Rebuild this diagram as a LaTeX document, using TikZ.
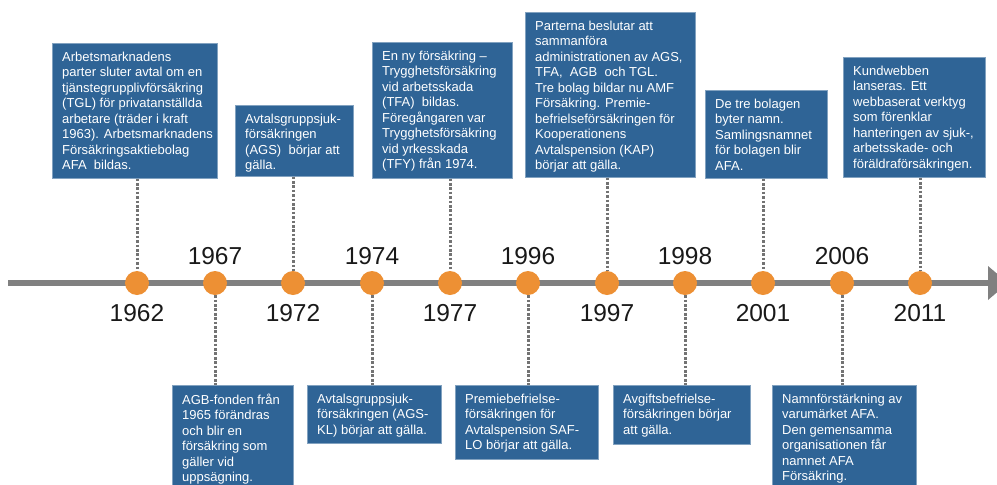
\documentclass[tikz,border=0pt]{standalone}
\usepackage{fontspec}
\setmainfont{Liberation Sans}
\definecolor{boxblue}{RGB}{47,100,150}
\definecolor{dotorange}{RGB}{237,144,52}
\definecolor{axisgray}{RGB}{128,128,128}
\definecolor{dotgray}{RGB}{115,115,115}
\tikzset{
  evbox/.style={rectangle, fill=boxblue, draw=boxblue!60!white, line width=0.5pt, inner sep=0pt, anchor=north west},
  evtext/.style={text=white, inner sep=0pt, anchor=north west, align=left, font=\fontsize{13}{15.5}\selectfont},
  evdot/.style={circle, fill=dotorange, inner sep=0pt, minimum size=24pt},
  yearlab/.style={inner sep=0pt, anchor=base, font=\fontsize{24.5}{28}\selectfont, text=black!90},
  conn/.style={dotgray, line width=3pt, dash pattern=on 2.7pt off 1.7pt},
}
\begin{document}
\begin{tikzpicture}[x=1pt, y=-1pt]
\useasboundingbox (0,0) rectangle (997,485);
% axis
\coordinate (axstart) at (8,283);
\coordinate (axend) at (990,283);
\draw[axisgray, line width=6pt] (axstart) -- (axend);
\fill[axisgray] (988,266) -- (1008,283) -- (988,300) -- cycle;

% dots
\node[evdot] (c62) at (137,283) {};
\node[evdot] (c67) at (215,283) {};
\node[evdot] (c72) at (293,283) {};
\node[evdot] (c74) at (372,283) {};
\node[evdot] (c77) at (450,283) {};
\node[evdot] (c96) at (528,283) {};
\node[evdot] (c97) at (607,283) {};
\node[evdot] (c98) at (685,283) {};
\node[evdot] (c01) at (763,283) {};
\node[evdot] (c06) at (842,283) {};
\node[evdot] (c11) at (920,283) {};

% year labels
\node[yearlab] (y62) at (137,321.7) {1962};
\node[yearlab] (y67) at (215,264) {1967};
\node[yearlab] (y72) at (293,321.7) {1972};
\node[yearlab] (y74) at (372,264) {1974};
\node[yearlab] (y77) at (450,321.7) {1977};
\node[yearlab] (y96) at (528,264) {1996};
\node[yearlab] (y97) at (607,321.7) {1997};
\node[yearlab] (y98) at (685,264) {1998};
\node[yearlab] (y01) at (763,321.7) {2001};
\node[yearlab] (y06) at (842,264) {2006};
\node[yearlab] (y11) at (920,321.7) {2011};

% top boxes
\node[evbox, minimum width=165pt, minimum height=135pt] (b62) at (52,43) {};
\node[evtext] (t62) at ([shift={(10,8.5)}]b62.north west) {Arbetsmarknadens\\parter sluter avtal om en\\tjänstegrupplivförsäkring\\(TGL) för privatanställda\\arbetare (träder i kraft\\1963). Arbetsmarknadens\\Försäkringsaktiebolag\\AFA\ \ bildas.};

\node[evbox, minimum width=118pt, minimum height=71pt] (b72) at (235,105) {};
\node[evtext] (t72) at ([shift={(10,8.5)}]b72.north west) {Avtalsgruppsjuk-\\försäkringen\\(AGS)\ \ börjar att\\gälla.};

\node[evbox, minimum width=140pt, minimum height=136pt] (b77) at (372,42) {};
\node[evtext] (t77) at ([shift={(10,8.5)}]b77.north west) {En ny försäkring –\\Trygghetsförsäkring\\vid arbetsskada\\(TFA)\ \ bildas.\\Föregångaren var\\Trygghetsförsäkring\\vid yrkesskada\\(TFY) från 1974.};

\node[evbox, minimum width=170pt, minimum height=165pt] (b97) at (525,12) {};
\node[evtext] (t97) at ([shift={(10,8.5)}]b97.north west) {Parterna beslutar att\\sammanföra\\administrationen av AGS,\\TFA,\ \ AGB\ \ och TGL.\\Tre bolag bildar nu AMF\\Försäkring. Premie-\\befrielseförsäkringen för\\Kooperationens\\Avtalspension (KAP)\\börjar att gälla.};

\node[evbox, minimum width=122pt, minimum height=88pt] (b01) at (705,90) {};
\node[evtext] (t01) at ([shift={(10,8.5)}]b01.north west) {De tre bolagen\\byter namn.\\Samlingsnamnet\\för bolagen blir\\AFA.};

\node[evbox, minimum width=142pt, minimum height=120pt] (b11) at (843,57) {};
\node[evtext] (t11) at ([shift={(10,8.5)}]b11.north west) {Kundwebben\\lanseras. Ett\\webbaserat verktyg\\som förenklar\\hanteringen av sjuk-,\\arbetsskade- och\\föräldraförsäkringen.};

% bottom boxes
\node[evbox, minimum width=121pt, minimum height=110pt] (b67) at (172,385) {};
\node[evtext] (t67) at ([shift={(10,8.5)}]b67.north west) {AGB-fonden från\\1965 förändras\\och blir en\\försäkring som\\gäller vid\\uppsägning.};

\node[evbox, minimum width=134pt, minimum height=58pt] (b74) at (307,385) {};
\node[evtext] (t74) at ([shift={(10,8.5)}]b74.north west) {Avtalsgruppsjuk-\\försäkringen (AGS-\\KL) börjar att gälla.};

\node[evbox, minimum width=143pt, minimum height=74pt] (b96) at (455,385) {};
\node[evtext] (t96) at ([shift={(10,8.5)}]b96.north west) {Premiebefrielse-\\försäkringen för\\Avtalspension SAF-\\LO börjar att gälla.};

\node[evbox, minimum width=137pt, minimum height=59pt] (b98) at (613,385) {};
\node[evtext] (t98) at ([shift={(10,8.5)}]b98.north west) {Avgiftsbefrielse-\\försäkringen börjar\\att gälla.};

\node[evbox, minimum width=144pt, minimum height=110pt] (b06) at (772,385) {};
\node[evtext] (t06) at ([shift={(10,8.5)}]b06.north west) {Namnförstärkning av\\varumärket AFA.\\Den gemensamma\\organisationen får\\namnet AFA\\Försäkring.};

% connectors
\draw[conn] (c62 |- b62.south) -- (c62.north);
\draw[conn] (c72 |- b72.south) -- (c72.north);
\draw[conn] (c77 |- b77.south) -- (c77.north);
\draw[conn] (c97 |- b97.south) -- (c97.north);
\draw[conn] (c01 |- b01.south) -- (c01.north);
\draw[conn] (c11 |- b11.south) -- (c11.north);
\draw[conn] (c67.south) -- (c67 |- b67.north);
\draw[conn] (c74.south) -- (c74 |- b74.north);
\draw[conn] (c96.south) -- (c96 |- b96.north);
\draw[conn] (c98.south) -- (c98 |- b98.north);
\draw[conn] (c06.south) -- (c06 |- b06.north);
\end{tikzpicture}
\end{document}
